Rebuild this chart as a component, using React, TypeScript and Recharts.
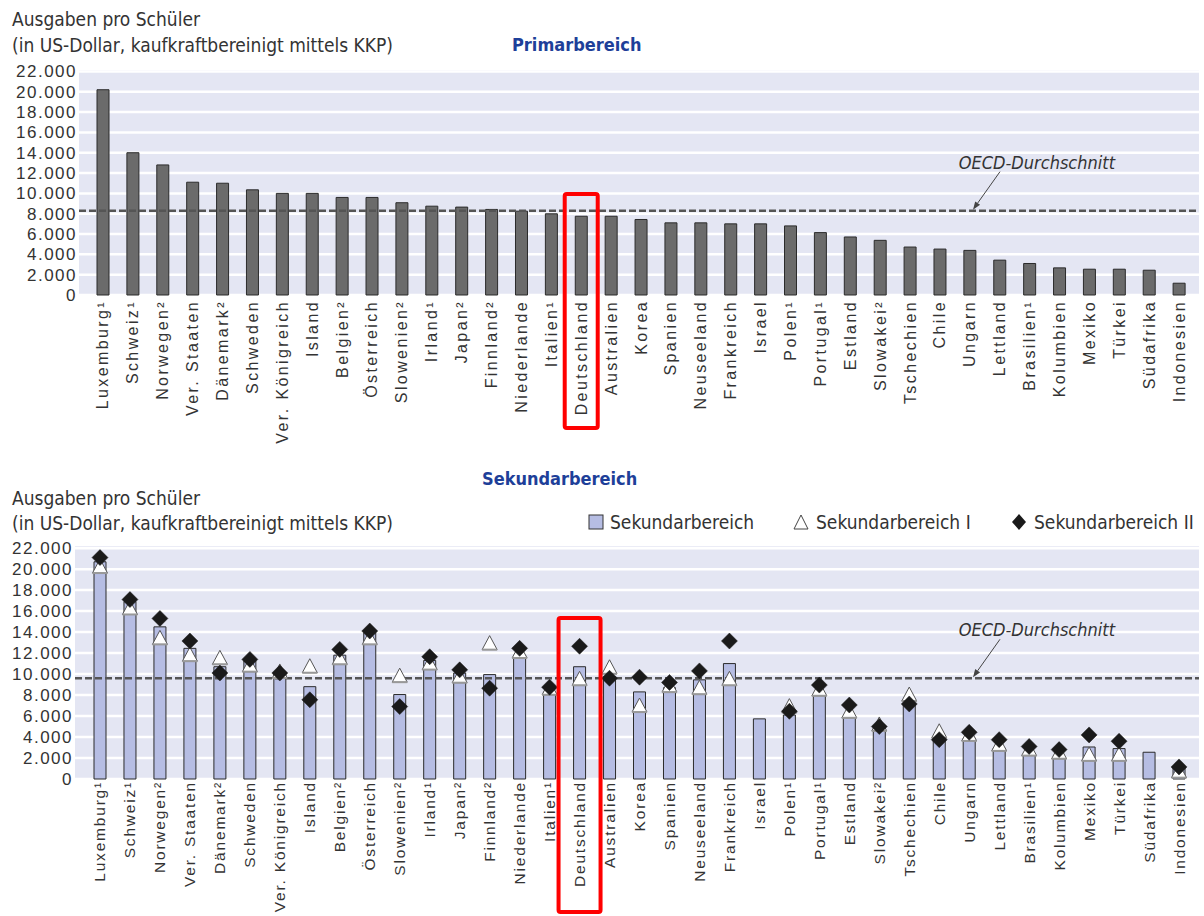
import { Bar, CartesianGrid, ComposedChart, ReferenceLine, Scatter, XAxis, YAxis } from "recharts"

const countries = [
  "Luxemburg¹", "Schweiz¹", "Norwegen²", "Ver. Staaten", "Dänemark²", "Schweden", "Ver. Königreich",
  "Island", "Belgien²", "Österreich", "Slowenien²", "Irland¹", "Japan²", "Finnland²", "Niederlande",
  "Italien¹", "Deutschland", "Australien", "Korea", "Spanien", "Neuseeland", "Frankreich", "Israel",
  "Polen¹", "Portugal¹", "Estland", "Slowakei²", "Tschechien", "Chile", "Ungarn", "Lettland",
  "Brasilien¹", "Kolumbien", "Mexiko", "Türkei", "Südafrika", "Indonesien",
]

const primar = [
  20200, 14000, 12800, 11100, 11000, 10350, 10000, 10000, 9600, 9600,
  9080, 8740, 8650, 8420, 8250, 7990, 7750, 7750, 7430, 7100,
  7100, 7000, 7000, 6800, 6140, 5710, 5380, 4720, 4520, 4390,
  3430, 3100, 2670, 2540, 2540, 2440, 1160,
]

const sekundar = [
  20700, 16900, 14500, 12450, 10700, 11250, 10000, 8800, 11800, 13950,
  8050, 11300, 10100, 9950, 11800, 8300, 10700, 9750, 8300, 8700,
  9450, 11000, 5730, 6100, 8000, 5950, 4700, 7200, 3900, 3900,
  2950, 2300, 2000, 3050, 2900, 2550, 1050,
]

const sekundarI = [
  20200, 16250, 13400, 11800, 11500, 10800, 10200, 10700, 11500, 13400,
  9800, 11000, 9750, 12900, 12100, 8600, 9500, 10600, 6950, 8850,
  8650, 9500, null, 6900, 8500, 6400, 5150, 8000, 4500, 4200,
  3250, 2800, 2500, 2300, 2300, null, 700,
]

const sekundarII = [
  21100, 17100, 15300, 13150, 10100, 11400, 10100, 7550, 12350, 14100,
  6900, 11650, 10400, 8650, 12450, 8750, 12650, 9600, 9700, 9200,
  10300, 13150, null, 6450, 8950, 7050, 5000, 7150, 3750, 4450,
  3750, 3100, 2800, 4200, 3600, null, 1150,
]

const yTicks = [0, 2000, 4000, 6000, 8000, 10000, 12000, 14000, 16000, 18000, 20000, 22000]
const oecdPrimar = 8300
const oecdSekundar = 9600
const highlight = "Deutschland"

const primarData = countries.map((name, i) => ({ name, wert: primar[i] }))
const sekData = countries.map((name, i) => ({
  name,
  sek: sekundar[i],
  sek1: sekundarI[i],
  sek2: sekundarII[i],
}))

const LAVENDER = "#e4e6f3"
const BLUE = "#1e3f99"
const TEXT = "#333333"
const NARROW = '"Liberation Sans Narrow", "DejaVu Sans Condensed", "Liberation Sans", sans-serif'
const TICKFONT = '"Liberation Sans", Arial, sans-serif'

const fmt = (v: number) => String(v).replace(/\B(?=(\d{3})+(?!\d))/g, ".")

function CountryTick(props: any) {
  const { x, y, payload, boxTop, boxBottom, boxWidth, spacing, offset, size } = props
  const tx = x + 5.5
  const ty = y + offset
  return (
    <g>
      {payload.value === highlight && (
        <rect
          x={x - boxWidth / 2}
          y={y - boxTop}
          width={boxWidth}
          height={boxTop + boxBottom}
          rx={2}
          fill="none"
          stroke="#ff0000"
          strokeWidth={4}
        />
      )}
      <text
        x={tx}
        y={ty}
        transform={`rotate(-90 ${tx} ${ty})`}
        textAnchor="end"
        fontSize={size}
        letterSpacing={spacing}
        fontFamily={TICKFONT}
        fill={TEXT}
      >
        {payload.value}
      </text>
    </g>
  )
}

function OecdLabel(props: any) {
  const { viewBox } = props
  if (!viewBox) return null
  const { x, y, width } = viewBox
  const right = x + width
  const tx = right - 84
  const ax0 = right - 199
  const ay0 = y - 39
  const ax1 = right - 226
  const ay1 = y - 1
  const dx = ax1 - ax0
  const dy = ay1 - ay0
  const len = Math.sqrt(dx * dx + dy * dy)
  const ux = dx / len
  const uy = dy / len
  const hx = ax1 - ux * 8
  const hy = ay1 - uy * 8
  return (
    <g>
      <text
        x={tx}
        y={y - 42}
        textAnchor="end"
        fontSize={18}
        fontStyle="italic"
        fontFamily={NARROW}
        fill={TEXT}
      >
        OECD-Durchschnitt
      </text>
      <line x1={ax0} y1={ay0} x2={hx} y2={hy} stroke="#444" strokeWidth={1} />
      <polygon
        points={`${ax1},${ay1} ${hx - uy * 3},${hy + ux * 3} ${hx + uy * 3},${hy - ux * 3}`}
        fill="#444"
      />
    </g>
  )
}

function Triangle(props: any) {
  const { cx, cy, payload } = props
  if (payload == null || payload.sek1 == null || cy == null) return <g />
  return (
    <g>
      <polygon
        points={`${cx},${cy - 8} ${cx + 7.5},${cy + 6} ${cx - 7.5},${cy + 6}`}
        fill="#ffffff"
        stroke="#555"
        strokeWidth={1}
      />
      <line x1={cx - 7.5} y1={cy + 6} x2={cx + 7.5} y2={cy + 6} stroke="#999" strokeWidth={2} />
    </g>
  )
}

function Diamond(props: any) {
  const { cx, cy, payload } = props
  if (payload == null || payload.sek2 == null || cy == null) return <g />
  return (
    <polygon
      points={`${cx},${cy - 8} ${cx + 8},${cy} ${cx},${cy + 8} ${cx - 8},${cy}`}
      fill="#1a1a1a"
      stroke="#1a1a1a"
      strokeWidth={0.5}
    />
  )
}

const headerStyle: React.CSSProperties = {
  position: "absolute",
  fontFamily: NARROW,
  fontSize: 19,
  color: TEXT,
  whiteSpace: "nowrap",
  lineHeight: "20px",
}

const titleStyle: React.CSSProperties = {
  ...headerStyle,
  fontSize: 18,
  color: BLUE,
  fontWeight: "bold",
}

function LegendItem({ icon, label, left }: { icon: React.ReactNode; label: string; left: number }) {
  return (
    <div style={{ ...headerStyle, left, top: 512, display: "flex", alignItems: "center" }}>
      <svg width={18} height={18} style={{ marginRight: 6 }}>
        {icon}
      </svg>
      {label}
    </div>
  )
}

export default function App() {
  return (
    <div
      style={{
        position: "absolute",
        left: 0,
        top: 0,
        width: 1204,
        height: 916,
        background: "#ffffff",
        overflow: "hidden",
      }}
    >
      <div style={{ ...headerStyle, left: 12, top: 9 }}>Ausgaben pro Schüler</div>
      <div style={{ ...headerStyle, left: 12, top: 35 }}>(in US-Dollar, kaufkraftbereinigt mittels KKP)</div>
      <div style={{ ...titleStyle, left: 512, top: 35 }}>Primarbereich</div>

      <div style={{ position: "absolute", left: 0, top: 0 }}>
        <ComposedChart width={1204} height={445} data={primarData} margin={{ top: 69, right: 5, bottom: 0, left: 7 }}>
          <CartesianGrid vertical={false} stroke="#ffffff" strokeWidth={2.5} fill={LAVENDER} fillOpacity={1} />
          <YAxis
            width={72}
            domain={[0, 22240]}
            ticks={yTicks}
            tickFormatter={fmt}
            axisLine={false}
            tickLine={false}
            tickSize={0}
            tickMargin={2}
            tick={{ fontSize: 17, fill: TEXT, fontFamily: TICKFONT, letterSpacing: 1.5 }}
            interval={0}
          />
          <Bar dataKey="wert" fill="#6b6b6b" stroke="#2b2b2b" strokeWidth={1} barSize={12} isAnimationActive={false} />
          <ReferenceLine
            y={oecdPrimar}
            stroke="#555"
            strokeWidth={2.5}
            strokeDasharray="7 3"
            label={<OecdLabel />}
          />
          <XAxis
            dataKey="name"
            height={150}
            interval={0}
            axisLine={false}
            tickLine={false}
            tickSize={0}
            tickMargin={0}
            padding={{ left: 9, right: 5 }}
            tick={<CountryTick boxTop={101} boxBottom={133} boxWidth={33} spacing={2.4} offset={5} size={16} />}
          />
        </ComposedChart>
      </div>

      <div style={{ ...titleStyle, left: 482, top: 469 }}>Sekundarbereich</div>
      <div style={{ ...headerStyle, left: 12, top: 488 }}>Ausgaben pro Schüler</div>
      <div style={{ ...headerStyle, left: 12, top: 513 }}>(in US-Dollar, kaufkraftbereinigt mittels KKP)</div>
      <LegendItem
        left={586}
        label="Sekundarbereich"
        icon={<rect x={3} y={2} width={14} height={14} fill="#b6bde3" stroke="#333" strokeWidth={1} />}
      />
      <LegendItem
        left={792}
        label="Sekundarbereich I"
        icon={<polygon points="9,2 16,16 2,16" fill="#fff" stroke="#444" strokeWidth={1} />}
      />
      <LegendItem
        left={1010}
        label="Sekundarbereich II"
        icon={<polygon points="9,1 16,9 9,17 2,9" fill="#1a1a1a" />}
      />

      <div style={{ position: "absolute", left: 0, top: 530 }}>
        <ComposedChart width={1204} height={386} data={sekData} margin={{ top: 15, right: 5, bottom: 0, left: 3 }}>
          <CartesianGrid vertical={false} stroke="#ffffff" strokeWidth={2.5} fill={LAVENDER} fillOpacity={1} />
          <YAxis
            width={72}
            domain={[0, 22300]}
            ticks={yTicks}
            tickFormatter={fmt}
            axisLine={false}
            tickLine={false}
            tickSize={0}
            tickMargin={2}
            tick={{ fontSize: 17, fill: TEXT, fontFamily: TICKFONT, letterSpacing: 1.5 }}
            interval={0}
          />
          <Bar dataKey="sek" fill="#b6bde3" stroke="#2b2b2b" strokeWidth={1} barSize={12} isAnimationActive={false} />
          <ReferenceLine
            y={oecdSekundar}
            stroke="#555"
            strokeWidth={2.5}
            strokeDasharray="7 3"
            label={<OecdLabel />}
          />
          <Scatter dataKey="sek1" shape={<Triangle />} isAnimationActive={false} />
          <Scatter dataKey="sek2" shape={<Diamond />} isAnimationActive={false} />
          <XAxis
            dataKey="name"
            height={137}
            interval={0}
            axisLine={false}
            tickLine={false}
            tickSize={0}
            tickMargin={0}
            padding={{ left: 10, right: 5 }}
            tick={<CountryTick boxTop={161} boxBottom={133} boxWidth={42} spacing={1.8} offset={2} size={15.5} />}
          />
        </ComposedChart>
      </div>
    </div>
  )
}
